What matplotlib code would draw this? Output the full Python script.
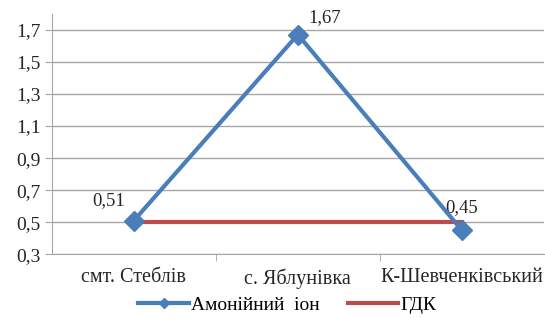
import matplotlib

matplotlib.use("Agg")
import matplotlib.pyplot as plt
from matplotlib.ticker import FuncFormatter, FixedLocator
import numpy as np

categories = ["смт. Стеблів", "с. Яблунівка", "К-Шевченківський"]
ammonium = [0.51, 1.67, 0.45]
gdk = [0.5, 0.5, 0.5]
yticks = [0.3, 0.5, 0.7, 0.9, 1.1, 1.3, 1.5, 1.7]

BLUE = "#4a7ebb"
RED = "#be4b48"
GRID = "#a6a6a6"
TEXT = "#262626"


def comma(v, _pos=None):
    return f"{v:g}".replace(".", ",")


plt.rcParams["font.family"] = ["Liberation Serif", "DejaVu Serif"]

fig = plt.figure(figsize=(5.45, 3.18), dpi=100)
ax = fig.add_axes([0.095, 0.2, 0.903, 0.757])

x = np.arange(len(categories))
ax.plot(x, ammonium, color=BLUE, lw=3, marker="D", markersize=10,
        label="Амонійний  іон", zorder=4)
ax.plot(x, gdk, color=RED, lw=3, label="ГДК", zorder=3)

offsets = [(-18, 8), (19, 6), (0, 10)]
for xi, v, (dx, dy) in zip(x, ammonium, offsets):
    ax.annotate(comma(v), (xi, v), xytext=(dx, dy), textcoords="offset points",
                ha="center", va="bottom", fontsize=13.5, color=TEXT)

ax.set_xlim(-0.5, 2.5)
ax.set_ylim(0.3, 1.8)
ax.set_yticks(yticks)
ax.yaxis.set_major_formatter(FuncFormatter(comma))
ax.set_xticks(x)
ax.set_xticklabels(categories)
ax.xaxis.set_minor_locator(FixedLocator([0.5, 1.5]))
ax.tick_params(axis="x", which="major", length=0, pad=10, labelsize=14.5, colors=TEXT)
ax.tick_params(axis="x", which="minor", length=5, color=GRID)
ax.tick_params(axis="y", length=5, color=GRID, labelsize=14, colors=TEXT, pad=3)
ax.grid(axis="y", color=GRID, lw=1)
ax.set_axisbelow(True)
for s in ["top", "right"]:
    ax.spines[s].set_visible(False)
ax.spines["left"].set_color(GRID)
ax.spines["bottom"].set_color(GRID)

leg = fig.legend(loc="center", bbox_to_anchor=(0.527, 0.04), ncol=2, frameon=False,
                 fontsize=14, handlelength=2.6, handletextpad=0.1, columnspacing=1.45)
leg.legend_handles[0].set_markersize(5)

fig.savefig("out.png", dpi=100)
plt.close(fig)
